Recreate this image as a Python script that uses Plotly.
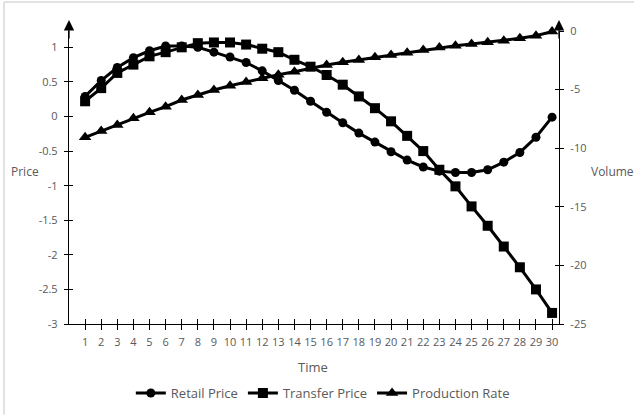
import plotly.graph_objects as go

time = list(range(1, 31))
retail_price = [0.29, 0.52, 0.71, 0.85, 0.95, 1.02, 1.02, 1.00, 0.93, 0.86,
                0.78, 0.66, 0.52, 0.38, 0.22, 0.06, -0.09, -0.24, -0.37, -0.51,
                -0.63, -0.73, -0.79, -0.81, -0.81, -0.77, -0.66, -0.52, -0.30, -0.01]
transfer_price = [0.22, 0.41, 0.63, 0.75, 0.87, 0.93, 1.00, 1.06, 1.07, 1.07,
                  1.04, 0.98, 0.93, 0.82, 0.72, 0.60, 0.46, 0.29, 0.12, -0.07,
                  -0.28, -0.50, -0.77, -1.01, -1.30, -1.58, -1.88, -2.18, -2.50, -2.84]
production_rate = [-9.07, -8.53, -8.02, -7.45, -6.94, -6.46, -5.89, -5.46, -5.03, -4.67,
                   -4.35, -4.04, -3.73, -3.47, -3.18, -2.90, -2.67, -2.47, -2.24, -2.05,
                   -1.85, -1.62, -1.41, -1.25, -1.11, -0.96, -0.83, -0.62, -0.40, -0.05]

price_ticks = [-3, -2.5, -2, -1.5, -1, -0.5, 0, 0.5, 1]
price_labels = ["-3", "-2.5", "-2", "-1.5", "-1", "-0.5", "0", "0.5", "1"]
volume_ticks = [-25, -20, -15, -10, -5, 0]
volume_labels = ["-25", "-20", "-15", "-10", "-5", "0"]
time_labels = [str(t) for t in time]

GRAY = "#595959"
FONT = "Open Sans"
XR = [0, 30.43]
PR = [-3, 1.236]
VR = [-25, 0]

fig = go.Figure()
fig.add_trace(go.Scatter(x=time, y=retail_price, name="Retail Price", mode="lines+markers",
                         line=dict(color="black", width=3),
                         marker=dict(symbol="circle", size=9, color="black"),
                         cliponaxis=False, xaxis="x", yaxis="y"))
fig.add_trace(go.Scatter(x=time, y=transfer_price, name="Transfer Price", mode="lines+markers",
                         line=dict(color="black", width=3),
                         marker=dict(symbol="square", size=10, color="black"),
                         cliponaxis=False, xaxis="x", yaxis="y"))
fig.add_trace(go.Scatter(x=time, y=production_rate, name="Production Rate", mode="lines+markers",
                         line=dict(color="black", width=3),
                         marker=dict(symbol="triangle-up", size=11, color="black"),
                         cliponaxis=False, xaxis="x", yaxis="y2"))
# dummy traces to activate overlay axes for crossing tick marks
fig.add_trace(go.Scatter(x=[None], y=[None], xaxis="x2", yaxis="y3", showlegend=False, hoverinfo="skip"))
fig.add_trace(go.Scatter(x=[None], y=[None], xaxis="x2", yaxis="y4", showlegend=False, hoverinfo="skip"))

tickfont = dict(family=FONT, size=11, color=GRAY)

fig.update_layout(
    template="none",
    width=634, height=415,
    margin=dict(l=69, r=75, t=31, b=91, autoexpand=False),
    paper_bgcolor="white", plot_bgcolor="white",
    font=dict(family=FONT, color=GRAY),
    xaxis=dict(range=XR, tickvals=time, ticktext=time_labels, ticks="outside", ticklen=5,
               tickcolor="black", tickwidth=1, showline=True, linecolor="black", linewidth=1.3,
               showgrid=False, zeroline=False, tickfont=tickfont, anchor="y",
               ticklabelstandoff=3, automargin=False),
    xaxis2=dict(range=XR, tickvals=time, ticks="inside", ticklen=5, tickcolor="black", tickwidth=1,
                showticklabels=False, showline=False, showgrid=False, zeroline=False,
                overlaying="x", anchor="y3"),
    yaxis=dict(range=PR, tickvals=price_ticks, ticktext=price_labels, ticks="outside", ticklen=4,
               tickcolor="black", tickwidth=1, showline=True, linecolor="black", linewidth=1.3,
               showgrid=False, zeroline=False, tickfont=tickfont, ticklabelstandoff=4,
               automargin=False),
    yaxis2=dict(range=VR, tickvals=volume_ticks, ticktext=volume_labels, ticks="outside", ticklen=4,
                tickcolor="black", tickwidth=1, showline=True, linecolor="black", linewidth=1.3,
                showgrid=False, zeroline=False, tickfont=tickfont, overlaying="y", side="right",
                anchor="x", ticklabelstandoff=4, automargin=False),
    yaxis3=dict(range=PR, tickvals=price_ticks, ticks="inside", ticklen=4, tickcolor="black",
                tickwidth=1, showticklabels=False, showline=False, showgrid=False, zeroline=False,
                overlaying="y", side="left", anchor="x2"),
    yaxis4=dict(range=VR, tickvals=volume_ticks, ticks="inside", ticklen=4, tickcolor="black",
                tickwidth=1, showticklabels=False, showline=False, showgrid=False, zeroline=False,
                overlaying="y", side="right", anchor="x2"),
    legend=dict(orientation="h", x=0.518, xanchor="center", y=-0.2355, yanchor="middle",
                font=dict(family=FONT, size=13, color=GRAY), bgcolor="rgba(0,0,0,0)",
                itemwidth=30),
    showlegend=True,
)

ann = [
    dict(text="Price", x=-0.0898, y=0.519, xref="paper", yref="paper", showarrow=False,
         font=dict(family=FONT, size=12, color=GRAY), xanchor="center", yanchor="middle"),
    dict(text="Volume", x=1.061, y=0.519, xref="paper", yref="paper", showarrow=False,
         font=dict(family=FONT, size=12, color=GRAY), xanchor="left", yanchor="middle"),
    dict(text="Time", x=0.498, y=-0.147, xref="paper", yref="paper", showarrow=False,
         font=dict(family=FONT, size=13, color=GRAY), xanchor="center", yanchor="middle"),
    dict(text="", x=0, y=1.0375, xref="paper", yref="paper", showarrow=True, ax=0, ay=20,
         arrowhead=2, arrowsize=1.6, arrowwidth=1.3, arrowcolor="black"),
    dict(text="", x=1, y=1.0375, xref="paper", yref="paper", showarrow=True, ax=0, ay=20,
         arrowhead=2, arrowsize=1.6, arrowwidth=1.3, arrowcolor="black"),
]
fig.update_layout(annotations=ann)

shapes = [
    dict(type="line", xref="paper", yref="paper", x0=-0.1327, x1=-0.1327, y0=1.099, y1=-0.31,
         line=dict(color="#d9d9d9", width=1.5)),
    dict(type="line", xref="paper", yref="paper", x0=-0.1327, x1=1.16, y0=1.099, y1=1.099,
         line=dict(color="#d9d9d9", width=1.5)),
]
fig.update_layout(shapes=shapes)

fig.write_html("out.html", config={"displayModeBar": False},
               post_script="document.body.style.margin='0';document.body.style.padding='0';")
